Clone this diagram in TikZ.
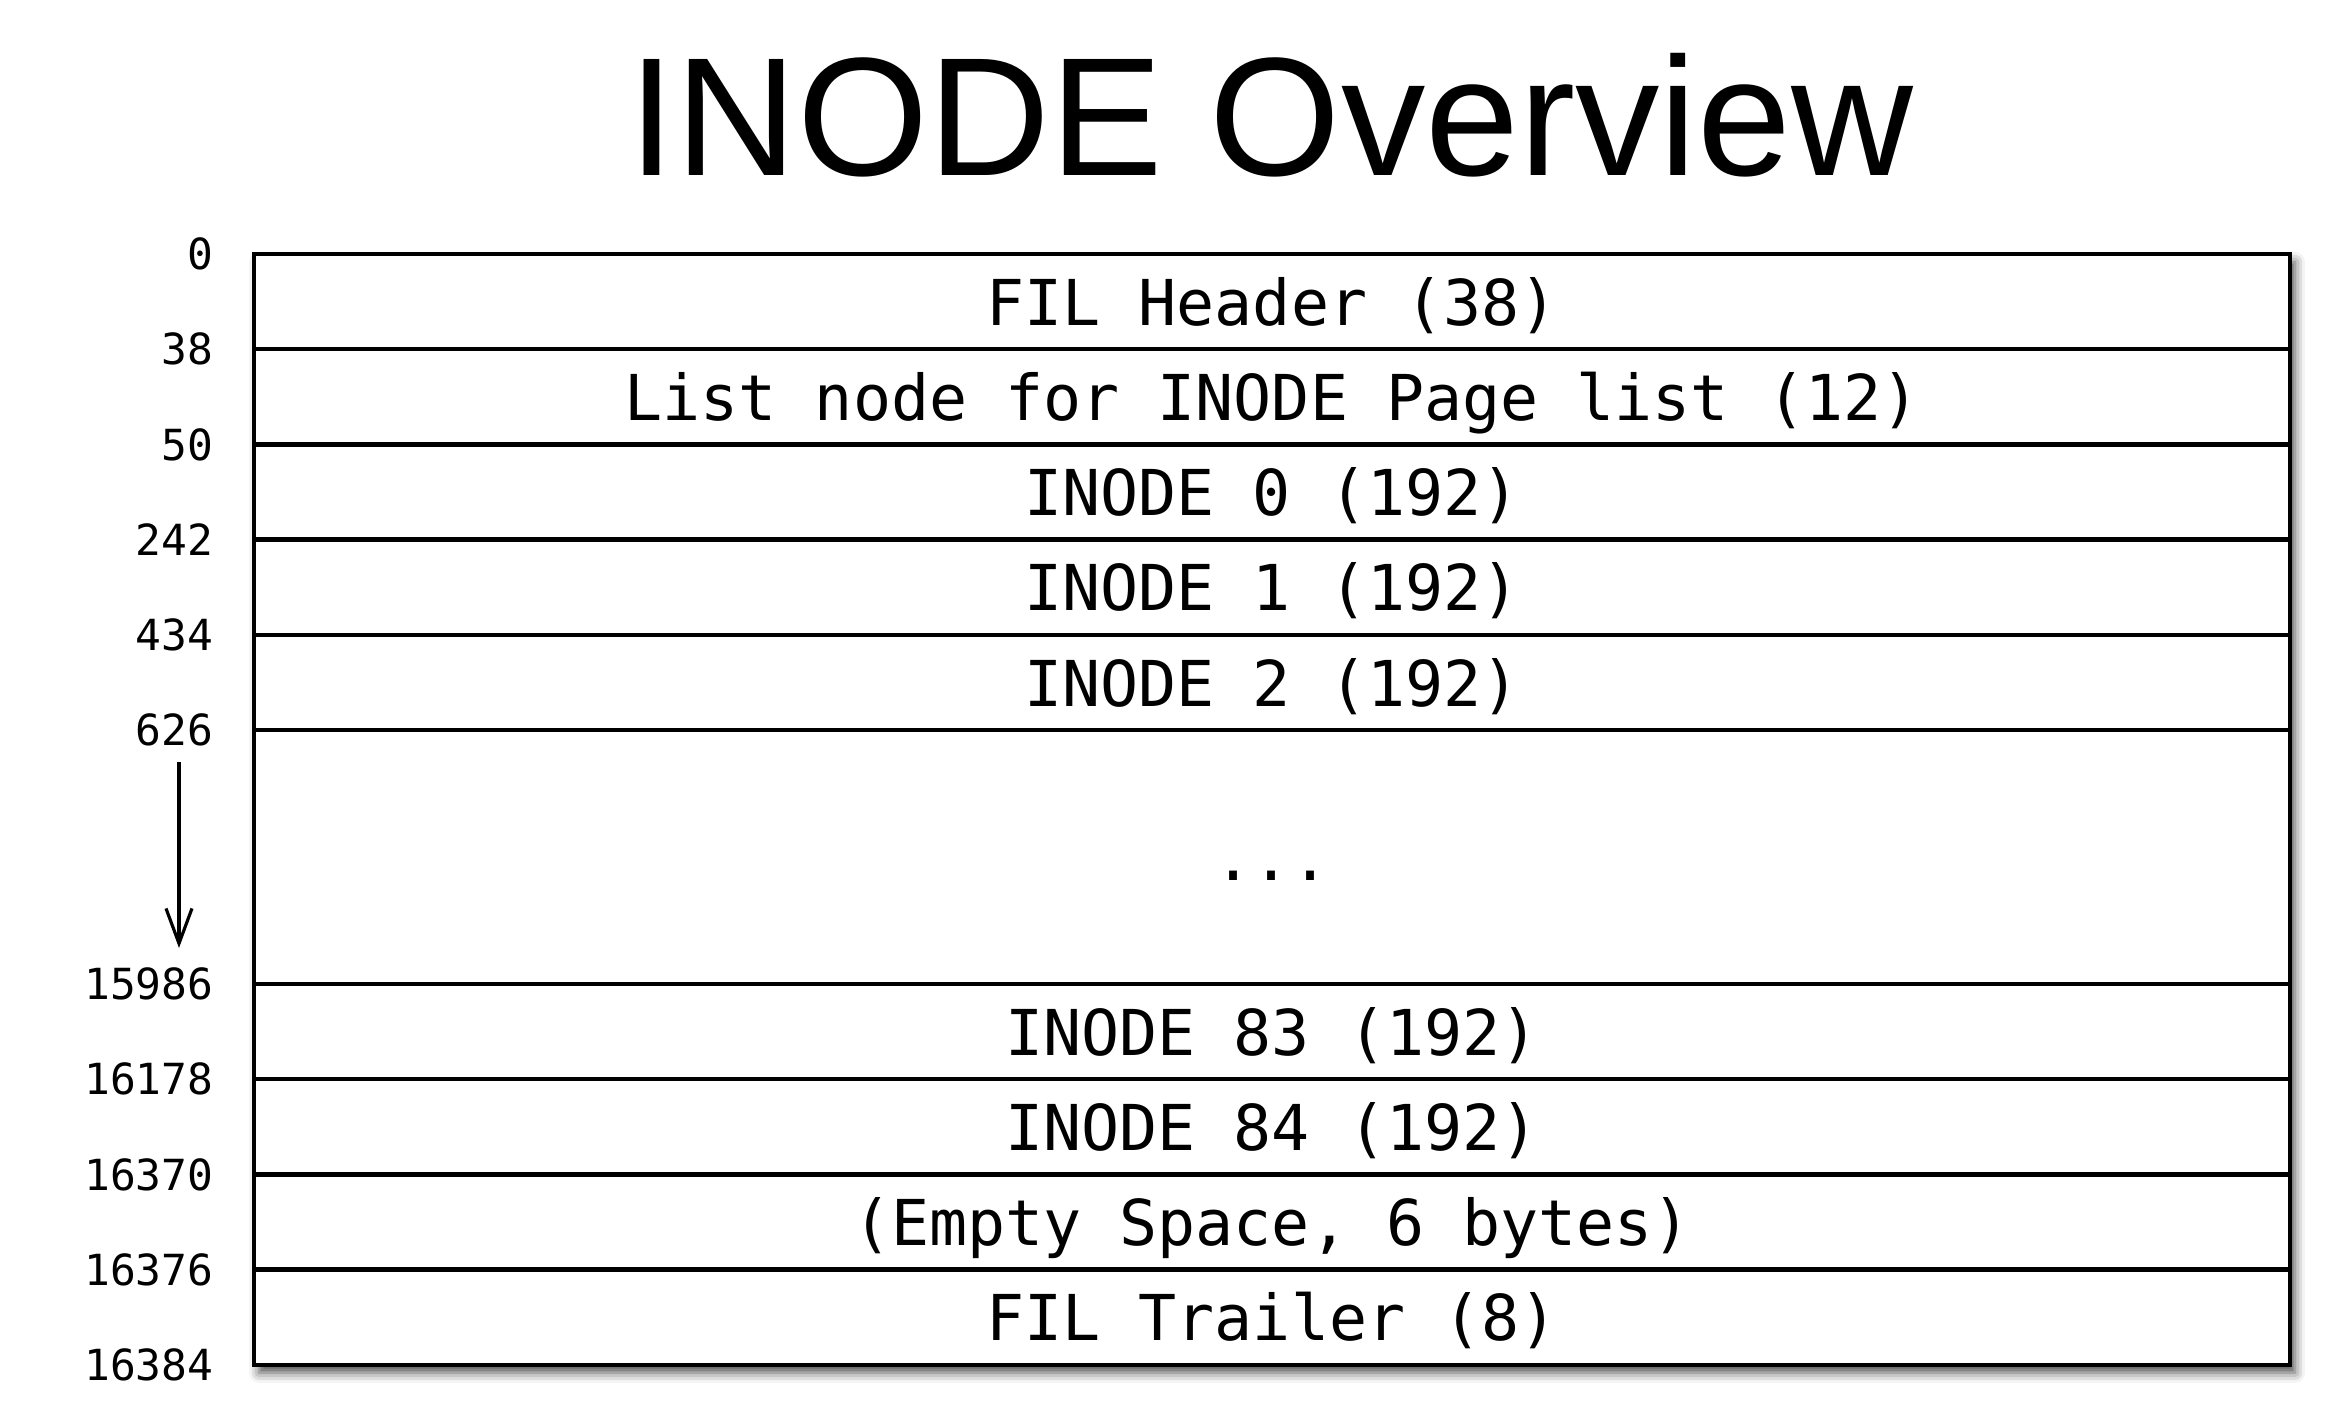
\documentclass[tikz,border=0pt]{standalone}
\usepackage{fontspec}
\setmainfont{Liberation Sans}
\setmonofont{DejaVu Sans Mono}
\usetikzlibrary{positioning, arrows.meta, fit, backgrounds, shadows.blur}
\tikzstyle{field} = [rectangle, draw=black, line width=1.3pt, outer sep=0pt, inner sep=0pt, minimum width=20.36cm, minimum height=0.952cm, text height=1.35em, text depth=0em, font=\ttfamily\fontsize{18}{18}\selectfont]
\tikzstyle{offset} = [inner sep=0pt, font=\ttfamily\fontsize{12.2}{12.2}\selectfont]
\tikzstyle{arrow} = [line width=0.9pt, -{Straight Barb[length=3.5mm,width=2.6mm]}]

\begin{document}
\begin{tikzpicture}
\useasboundingbox (0,0) rectangle (23.42,14.14);

% Title
\node (title) at (12.71,12.99) {\fontsize{48}{48}\selectfont INODE Overview};

% Page fields
\node (hdr) [field, anchor=north] at (12.72,11.60) {FIL Header (38)};
\node (lst) [field, below=0pt of hdr] {List node for INODE Page list (12)};
\node (in0) [field, below=0pt of lst] {INODE 0 (192)};
\node (in1) [field, below=0pt of in0] {INODE 1 (192)};
\node (in2) [field, below=0pt of in1] {INODE 2 (192)};
\node (dots) [field, below=0pt of in2, minimum height=2.54cm] {...};
\node (in83) [field, below=0pt of dots] {INODE 83 (192)};
\node (in84) [field, below=0pt of in83] {INODE 84 (192)};
\node (empty) [field, below=0pt of in84] {(Empty Space, 6 bytes)};
\node (trl) [field, below=0pt of empty] {FIL Trailer (8)};

% Page frame with shadow
\begin{scope}[on background layer]
\node (page) [fit=(hdr)(trl), inner sep=0pt, fill=white, draw=black, line width=1.3pt, blur shadow={shadow xshift=0.5mm, shadow yshift=-0.8mm, shadow blur radius=1mm, shadow opacity=70}] {};
\end{scope}

% Offsets
\node (l0) [offset, left=4mm of hdr.north west] {0};
\node (l38) [offset, left=4mm of lst.north west] {38};
\node (l50) [offset, left=4mm of in0.north west] {50};
\node (l242) [offset, left=4mm of in1.north west] {242};
\node (l434) [offset, left=4mm of in2.north west] {434};
\node (l626) [offset, left=4mm of dots.north west] {626};
\node (l15986) [offset, left=4mm of in83.north west] {15986};
\node (l16178) [offset, left=4mm of in84.north west] {16178};
\node (l16370) [offset, left=4mm of empty.north west] {16370};
\node (l16376) [offset, left=4mm of trl.north west] {16376};
\node (l16384) [offset, left=4mm of trl.south west] {16384};

% Direction arrow
\coordinate (atop) at (1.79,6.52);
\coordinate (abot) at (1.79,4.66);
\draw [arrow] (atop) -- (abot);

\end{tikzpicture}
\end{document}
